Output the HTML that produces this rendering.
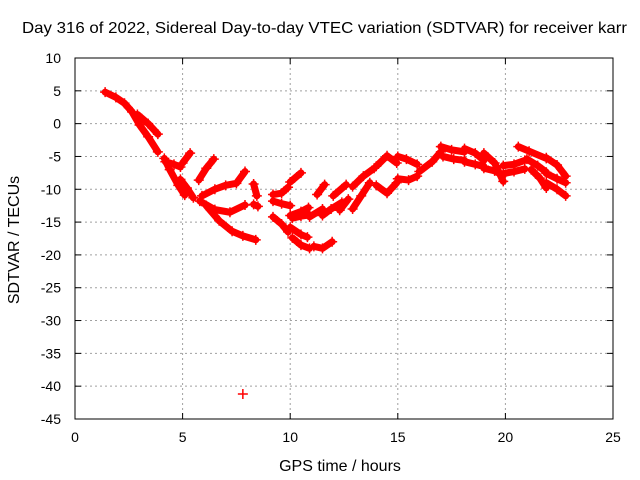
<!DOCTYPE html>
<html><head><meta charset="utf-8"><style>
body{margin:0;background:#fff}
svg{display:block;font-family:"Liberation Sans",sans-serif}
</style></head><body>
<svg id="chart" width="640" height="480" viewBox="0 0 640 480" xmlns="http://www.w3.org/2000/svg">
<rect width="640" height="480" fill="#fff"/>
<text x="324.5" y="33" font-size="16" text-anchor="middle" textLength="605" lengthAdjust="spacingAndGlyphs">Day 316 of 2022, Sidereal Day-to-day VTEC variation (SDTVAR) for receiver karr</text>
<text x="340" y="471" font-size="16" text-anchor="middle">GPS time / hours</text>
<text transform="translate(19,240) rotate(-90)" font-size="16" text-anchor="middle">SDTVAR / TECUs</text>
<g id="grid"></g>
<g id="ticks"></g>
<g id="marks"></g>
<rect x="75" y="58" width="538" height="361" fill="none" stroke="#000" stroke-width="1"/>
</svg>
<script>
const xTicks=[0,5,10,15,20,25];
const yTicks=[10,5,0,-5,-10,-15,-20,-25,-30,-35,-40,-45];
const tracks=[
[[1.4,4.8],[1.9,4.0],[2.3,3.1],[2.65,1.8],[3.0,-0.2],[3.4,-2.0],[3.85,-4.3]],
[[2.9,1.4],[3.4,0.0],[3.85,-1.6]],
[[4.15,-5.3],[4.4,-7.0],[4.8,-9.4],[5.1,-10.9]],
[[4.2,-5.8],[4.6,-6.2],[4.9,-6.6]],
[[5.0,-6.0],[5.35,-4.5]],
[[4.9,-8.5],[5.2,-9.8],[5.5,-11.3]],
[[5.75,-8.6],[6.1,-6.8],[6.45,-5.4]],
[[5.9,-11.0],[6.5,-10.0],[7.0,-9.4],[7.5,-9.1],[7.9,-7.3]],
[[5.8,-11.8],[6.5,-13.1],[7.2,-13.5],[7.9,-12.4]],
[[6.1,-12.5],[6.7,-14.8],[7.3,-16.4],[7.8,-17.1],[8.4,-17.7]],
[[8.3,-9.2],[8.45,-11.0]],
[[8.3,-12.3],[8.5,-12.6]],
[[7.8,-41.2]],
[[9.2,-10.8],[9.6,-10.6],[9.9,-9.7]],
[[10.0,-8.9],[10.5,-7.5]],
[[9.2,-11.8],[9.6,-12.2],[10.0,-12.5]],
[[9.2,-14.2],[9.6,-15.3],[9.9,-16.5]],
[[10.0,-15.8],[10.5,-16.9],[10.8,-17.3]],
[[10.1,-17.4],[10.5,-18.5],[10.9,-19.0]],
[[11.1,-18.7],[11.5,-19.0],[11.95,-18.0]],
[[10.0,-14.0],[10.5,-13.4],[10.85,-12.8]],
[[10.1,-14.4],[10.5,-14.1],[10.9,-13.9]],
[[10.9,-14.2],[11.5,-13.0]],
[[11.25,-10.8],[11.6,-9.3]],
[[11.5,-14.0],[11.9,-13.0],[12.4,-12.0]],
[[12.0,-11.0],[12.6,-9.3]],
[[12.3,-13.2],[12.7,-11.5]],
[[12.9,-13.0],[13.3,-11.0],[13.7,-9.0]],
[[12.9,-9.6],[13.4,-8.0],[13.9,-6.8]],
[[14.0,-6.5],[14.5,-4.9],[14.95,-6.0]],
[[14.0,-9.4],[14.5,-10.6],[14.95,-9.0]],
[[15.0,-5.0],[15.4,-5.4],[15.9,-6.2]],
[[15.0,-8.4],[15.5,-8.6],[15.9,-8.0]],
[[16.0,-7.3],[16.6,-5.8],[17.0,-4.3]],
[[17.0,-3.5],[17.5,-4.0],[18.1,-4.3]],
[[17.1,-5.0],[17.6,-5.4],[18.1,-5.6]],
[[18.1,-3.8],[18.6,-4.5],[19.0,-5.6]],
[[18.1,-5.8],[18.6,-6.2],[19.0,-6.5]],
[[19.0,-4.5],[19.5,-6.0],[19.9,-8.8]],
[[19.0,-6.8],[19.5,-7.2],[19.9,-7.9]],
[[19.9,-6.4],[20.4,-6.2],[20.9,-5.6]],
[[19.9,-7.6],[20.4,-7.3],[20.9,-6.9]],
[[20.6,-3.5],[21.1,-4.2],[21.9,-5.3]],
[[21.0,-5.4],[21.5,-6.4],[21.9,-7.4]],
[[21.2,-7.0],[21.6,-8.3],[21.9,-9.8]],
[[21.9,-5.2],[22.4,-6.3],[22.8,-8.0]],
[[21.9,-7.6],[22.4,-8.4],[22.8,-9.0]],
[[21.9,-9.0],[22.4,-10.0],[22.8,-11.0]]
];
const NS='http://www.w3.org/2000/svg';
const X0=75,X1=613,Y0=419,Y1=58,xmin=0,xmax=25,ymin=-45,ymax=10;
function sx(t){return X0+(t-xmin)/(xmax-xmin)*(X1-X0);}
function sy(v){return Y0-(v-ymin)/(ymax-ymin)*(Y0-Y1);}
function mk(tag,attrs,parent){const e=document.createElementNS(NS,tag);for(const k in attrs)e.setAttribute(k,attrs[k]);parent.appendChild(e);return e;}
const grid=document.getElementById('grid'),ticks=document.getElementById('ticks'),marks=document.getElementById('marks');
xTicks.forEach(t=>{const x=sx(t);
 if(t>xmin&&t<xmax){const g=mk('line',{x1:x,x2:x,y1:Y1,y2:Y0,stroke:'#a0a0a0','stroke-dasharray':'2,3'},grid);
 
 }
 mk('line',{x1:x,x2:x,y1:Y0,y2:Y0-6,stroke:'#000'},ticks);
 mk('line',{x1:x,x2:x,y1:Y1,y2:Y1+6,stroke:'#000'},ticks);
 const l=mk('text',{x:x,y:442,'font-size':14,'text-anchor':'middle'},ticks);l.textContent=t;
 
 
});
yTicks.forEach(v=>{const y=sy(v);
 if(v>ymin&&v<ymax){const g=mk('line',{x1:X0,x2:X1,y1:y,y2:y,stroke:'#a0a0a0','stroke-dasharray':'2,3'},grid);
 
 }
 mk('line',{x1:X0,x2:X0+6,y1:y,y2:y,stroke:'#000'},ticks);
 mk('line',{x1:X1,x2:X1-6,y1:y,y2:y,stroke:'#000'},ticks);
 const l=mk('text',{x:61,y:y+5,'font-size':14,'text-anchor':'end'},ticks);l.textContent=v;
 
 
});
tracks.forEach(tr=>{
 if(tr.length>1){const p=mk('polyline',{points:tr.map(d=>sx(d[0])+','+sy(d[1])).join(' '),fill:'none',stroke:'#f00','stroke-width':7,'stroke-linejoin':'round','stroke-linecap':'round'},marks);
 
 }
 tr.forEach(d=>{const x=sx(d[0]),y=sy(d[1]);
  const m=mk('path',{d:`M${x-5},${y}H${x+5}M${x},${y-5}V${y+5}`,stroke:'#f00','stroke-width':1.5},marks);
  
  
 });
});
</script>
</body></html>
